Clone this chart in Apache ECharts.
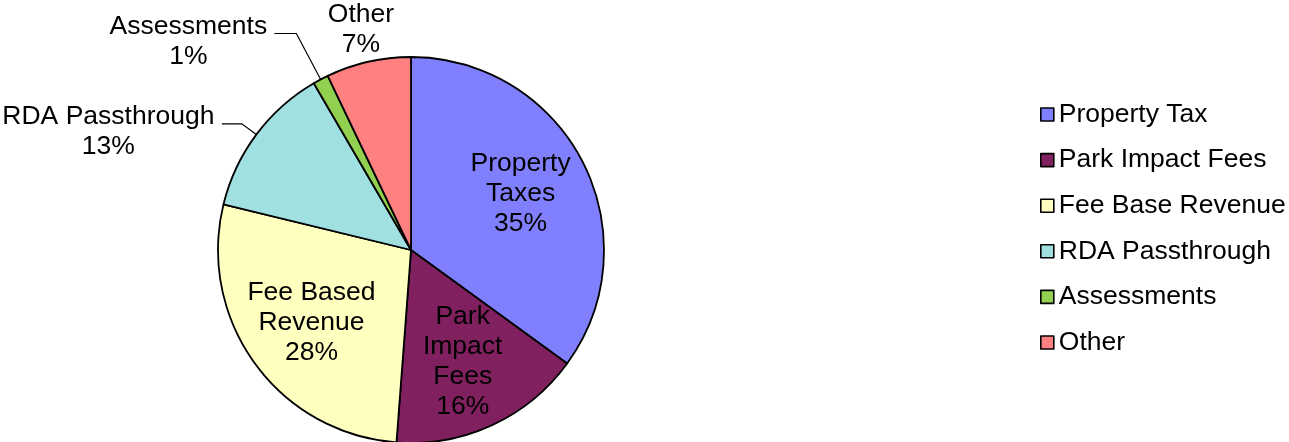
<!DOCTYPE html>
<html><head><meta charset="utf-8">
<script src="https://cdn.jsdelivr.net/npm/echarts@6/dist/echarts.min.js"></script>
<style>html,body{margin:0;padding:0;background:#fff}#c{width:1289px;height:442px}</style>
</head><body><div id="c"></div>
<script>
const legendNames = ['Property Tax', 'Park Impact Fees', 'Fee Base Revenue', 'RDA Passthrough', 'Assessments', 'Other'];
const sliceLabels = ['Property\nTaxes', 'Park\nImpact\nFees', 'Fee Based\nRevenue', 'RDA Passthrough', 'Assessments', 'Other'];
const values = [35.0, 16.2, 27.6, 12.8, 1.3, 7.1];
const colors = ['#8080ff', '#80205f', '#ffffc0', '#a0e0e0', '#92d050', '#ff8080'];
// where each slice's label sits: inside the slice, outside with a leader line, or outside without one
const labelKind = ['inside', 'inside', 'inside', 'line', 'line', 'free'];

const FONT = 'Liberation Sans, Arial, sans-serif';
const FS = 26.5;
const total = values.reduce((a, b) => a + b, 0);
const pct = v => Math.round(v / total * 100) + '%';
const ctx = document.createElement('canvas').getContext('2d');
ctx.font = FS + 'px "Liberation Sans"';
const textW = s => Math.max(...s.split('\n').map(l => ctx.measureText(l).width));
const labelText = i => sliceLabels[i] + '\n' + pct(values[i]);
const richText = i => labelText(i).split('\n').map(l => '{a' + i + '|' + l + '}').join('\n');
const rich = {};
values.forEach((v, i) => { rich['a' + i] = {width: Math.ceil(textW(labelText(i))) + 2, align: 'center', fontFamily: FONT, fontSize: FS, lineHeight: 30.5, color: '#000'}; });
const font = {fontFamily: FONT, fontSize: FS, color: '#000', lineHeight: 30};
const lineLens = {3: [18, 20], 4: [52, 22]};

const mainData = values.map((v, i) => ({
  name: legendNames[i], value: v,
  itemStyle: {color: colors[i]},
  label: {show: labelKind[i] === 'line'},
  labelLine: labelKind[i] === 'line' ? {show: true, length: lineLens[i][0], length2: lineLens[i][1]} : {show: false}
}));
const overlay = (kind) => values.map((v, i) => ({name: 'lbl' + i, value: v, label: {show: labelKind[i] === kind}}));

const chart = echarts.init(document.getElementById('c'));
chart.setOption({
  animation: false,
  backgroundColor: '#fff',
  legend: {
    orient: 'vertical', left: 1035, top: 96,
    data: legendNames,
    itemWidth: 13, itemHeight: 13, itemGap: 18.6,
    icon: 'rect',
    itemStyle: {borderColor: '#000', borderWidth: 1.6},
    textStyle: {fontFamily: FONT, fontSize: FS, lineHeight: 26, color: '#000'}
  },
  series: [{
    type: 'pie', center: [411, 250], radius: [0, 193],
    startAngle: 90, clockwise: true, minAngle: 0,
    avoidLabelOverlap: false,
    itemStyle: {borderColor: '#000', borderWidth: 1.8},
    label: {position: 'outside', formatter: p => richText(p.dataIndex), rich: rich, distanceToLabelLine: 6, padding: [16, 0, 0, 0]},
    labelLine: {lineStyle: {color: '#000', width: 1.2}, smooth: false},
    emphasis: {disabled: true},
    data: mainData
  }, {
    type: 'pie', center: [411, 250], radius: [0, 240],
    startAngle: 90, clockwise: true, silent: true,
    itemStyle: {color: 'rgba(0,0,0,0)', borderWidth: 0},
    label: Object.assign({position: 'inside', formatter: p => labelText(p.dataIndex)}, font),
    labelLine: {show: false},
    emphasis: {disabled: true},
    data: overlay('inside')
  }, {
    type: 'pie', center: [411, 250], radius: [0, 446],
    startAngle: 90, clockwise: true, silent: true,
    itemStyle: {color: 'rgba(0,0,0,0)', borderWidth: 0},
    label: Object.assign({position: 'inside', formatter: p => labelText(p.dataIndex)}, font),
    labelLine: {show: false},
    emphasis: {disabled: true},
    data: overlay('free')
  }]
});
</script></body></html>
